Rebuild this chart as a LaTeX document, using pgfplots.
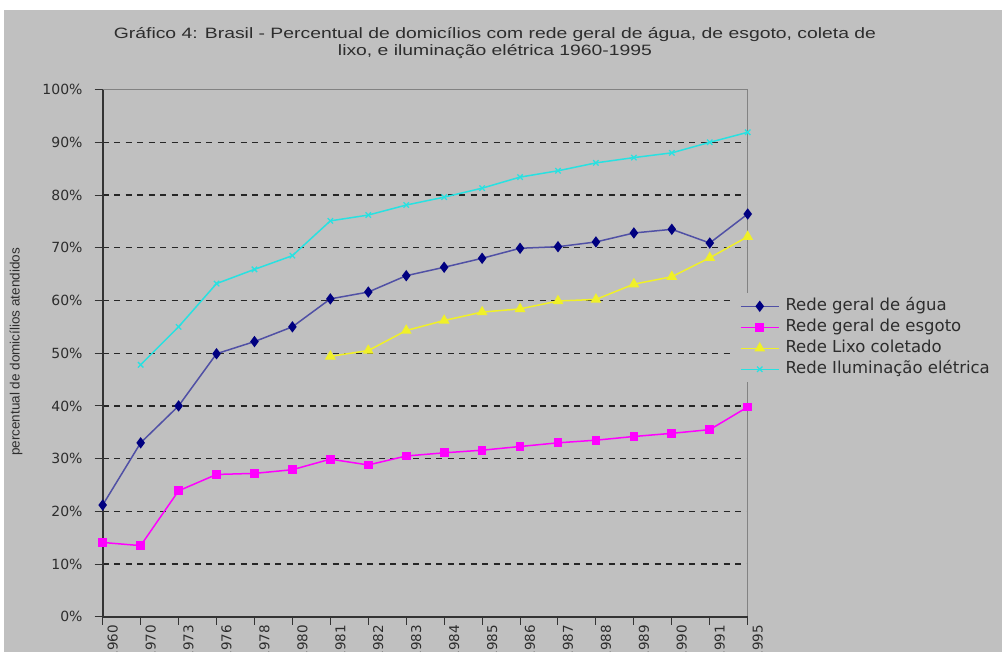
\documentclass[border=0pt]{standalone}
\usepackage{pgfplots}
\pgfplotsset{compat=1.18}
\usepackage{fontspec}
\setmainfont{Liberation Sans}
\newfontfamily\dejavu{DejaVu Sans}
\definecolor{bg}{RGB}{192,192,192}
\definecolor{txt}{RGB}{45,45,45}
\definecolor{frameg}{RGB}{130,130,130}
\definecolor{aguaL}{RGB}{80,80,165}
\definecolor{aguaM}{RGB}{0,0,128}
\definecolor{esg}{RGB}{255,0,255}
\definecolor{lixo}{RGB}{240,240,40}
\definecolor{ilum}{RGB}{40,225,225}
\begin{document}
\begin{tikzpicture}[x=1pt,y=1pt]
\useasboundingbox (0,0) rectangle (1002,652);
\fill[white] (0,0) rectangle (1002,652);
\fill[bg] (4,0) rectangle (1002,642);
\node[font=\fontsize{15}{17}\selectfont, text=txt, align=center, xscale=1.29] at (495,608.5)
  {Gráfico 4: Brasil - Percentual de domicílios com rede geral de água, de esgoto, coleta de\\lixo, e iluminação elétrica 1960-1995};
\node[rotate=90, font=\fontsize{13.5}{16}\selectfont, text=txt] at (16,300) {percentual de domicílios atendidos};
\begin{axis}[name=ax, at={(102.7pt,35.2pt)}, anchor=south west,
  scale only axis, width=645pt, height=527.2pt,
  xmin=0, xmax=17, ymin=0, ymax=100, clip=false,
  axis line style={draw=none},
  xtick={0,...,17},
  xticklabels={1960,1970,1973,1976,1978,1980,1981,1982,1983,1984,1985,1986,1987,1988,1989,1990,1991,1995},
  ytick={0,10,...,100},
  yticklabels={0\%,10\%,20\%,30\%,40\%,50\%,60\%,70\%,80\%,90\%,100\%},
  xtick pos=bottom, ytick pos=left,
  tick align=outside, major tick length=8pt,
  tick style={black!80, line width=1pt},
  yticklabel style={font=\dejavu\fontsize{14}{16}\selectfont, text=txt, inner sep=0pt, anchor=east, xshift=-12pt},
  xticklabel style={font=\dejavu\fontsize{13.5}{16}\selectfont, text=txt, inner sep=0pt, rotate=90, anchor=east, yshift=-10pt},
  extra y ticks={10,20,...,90},
  extra y tick labels={},
  extra y tick style={grid=major, major tick length=0pt},
  grid style={black!85, line width=1.2pt, dash pattern=on 6pt off 5.5pt},
  legend style={at={(0.980,0.614)}, anchor=north west, fill=bg, draw=none,
    font=\dejavu\fontsize{16.5}{19}\selectfont, text=txt, inner sep=5pt,
    nodes={inner sep=0pt, text height=12pt, text depth=4pt},
    row sep=5pt, column sep=6pt},
  legend cell align=left,
  legend image code/.code={\draw[mark repeat=2,mark phase=2] plot coordinates {(0pt,0pt) (19pt,0pt) (38pt,0pt)};},
]
\draw[frameg, line width=1.2pt] (rel axis cs:0,1) -- (rel axis cs:1,1) -- (rel axis cs:1,0);
\draw[black!80, line width=1.8pt] (rel axis cs:0,1) -- (rel axis cs:0,0) -- (rel axis cs:1,0);
\addplot[aguaL, line width=1.5pt, mark=diamond*, mark size=4.5pt, mark options={aguaM, fill=aguaM}] coordinates {
(0,21.2) (1,33.0) (2,40.0) (3,49.9) (4,52.2) (5,55.0) (6,60.3) (7,61.6) (8,64.7) (9,66.3) (10,68.0) (11,69.9) (12,70.2) (13,71.1) (14,72.8) (15,73.5) (16,70.9) (17,76.4)};
\addlegendentry{Rede geral de água}
\addplot[esg, line width=1.5pt, mark=square*, mark size=3.6pt, mark options={esg, fill=esg}] coordinates {
(0,14.1) (1,13.5) (2,23.9) (3,27.0) (4,27.2) (5,27.9) (6,29.9) (7,28.8) (8,30.5) (9,31.1) (10,31.6) (11,32.3) (12,33.0) (13,33.5) (14,34.2) (15,34.8) (16,35.5) (17,39.8)};
\addlegendentry{Rede geral de esgoto}
\addplot[lixo, line width=1.5pt, mark=triangle*, mark size=4.8pt, mark options={lixo, fill=lixo}] coordinates {
(6,49.4) (7,50.5) (8,54.3) (9,56.2) (10,57.8) (11,58.4) (12,59.9) (13,60.2) (14,63.1) (15,64.5) (16,68.1) (17,72.1)};
\addlegendentry{Rede Lixo coletado}
\addplot[ilum, line width=1.5pt, mark=x, mark size=3.8pt, mark options={ilum, line width=1.3pt}] coordinates {
(1,47.8) (2,55.0) (3,63.2) (4,65.9) (5,68.5) (6,75.1) (7,76.2) (8,78.1) (9,79.6) (10,81.3) (11,83.4) (12,84.6) (13,86.1) (14,87.1) (15,88.0) (16,90.0) (17,91.9)};
\addlegendentry{Rede Iluminação elétrica}
\end{axis}
\end{tikzpicture}
\end{document}
